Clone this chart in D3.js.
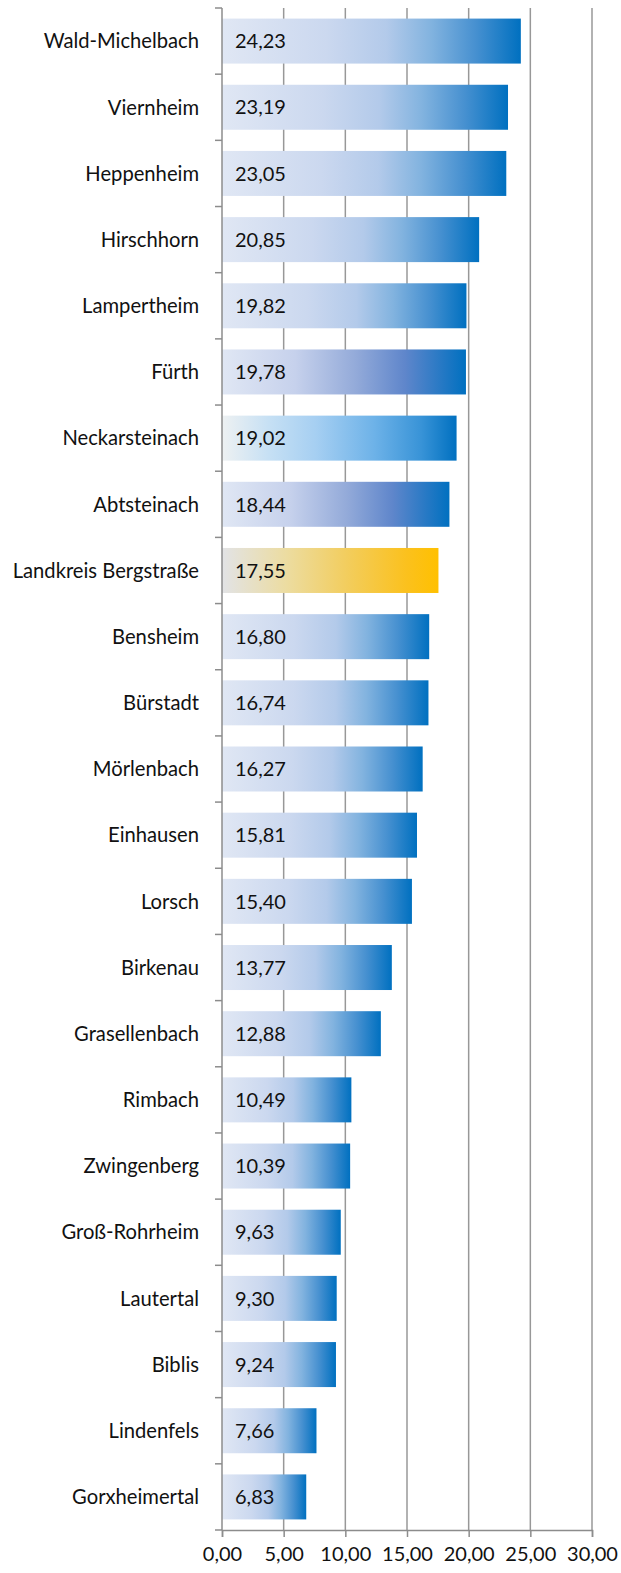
<!DOCTYPE html>
<html>
<head>
<meta charset="utf-8">
<script src="https://cdn.jsdelivr.net/npm/d3@7"></script>
<style>
  body { margin: 0; background: #fff; }
  text { font-family: Lato, "Open Sans", sans-serif; }
</style>
</head>
<body>
<div id="chart"></div>
<script>
const places = ["Wald-Michelbach", "Viernheim", "Heppenheim", "Hirschhorn", "Lampertheim", "Fürth",
  "Neckarsteinach", "Abtsteinach", "Landkreis Bergstraße", "Bensheim", "Bürstadt", "Mörlenbach",
  "Einhausen", "Lorsch", "Birkenau", "Grasellenbach", "Rimbach", "Zwingenberg", "Groß-Rohrheim",
  "Lautertal", "Biblis", "Lindenfels", "Gorxheimertal"];
const values = [24.23, 23.19, 23.05, 20.85, 19.82, 19.78, 19.02, 18.44, 17.55, 16.80, 16.74, 16.27,
  15.81, 15.40, 13.77, 12.88, 10.49, 10.39, 9.63, 9.30, 9.24, 7.66, 6.83];
const styles = ["blue", "blue", "blue", "blue", "blue", "violet", "sky", "violet", "gold", "blue", "blue",
  "blue", "blue", "blue", "blue", "blue", "blue", "blue", "blue", "blue", "blue", "blue", "blue"];
const xTicks = [0, 5, 10, 15, 20, 25, 30];

const data = places.map((p, i) => ({ name: p, value: values[i], style: styles[i] }));

const width = 621, height = 1573;
const margin = { top: 8, right: 29, bottom: 43, left: 222 };

const svg = d3.select("#chart").append("svg")
  .attr("width", width)
  .attr("height", height);

// gradients
const gradients = {
  blue: [[0, "#e0e7f4"], [0.35, "#cbd8ef"], [0.55, "#b3caea"], [0.7, "#82b3df"], [0.85, "#4690d0"], [1, "#0070c0"]],
  violet: [[0, "#e0e7f4"], [0.3, "#c6d1ec"], [0.55, "#93aad9"], [0.75, "#5f86cb"], [1, "#0070c0"]],
  sky: [[0, "#eef1f2"], [0.2, "#c6e0f4"], [0.4, "#a6cff2"], [0.65, "#6db2e8"], [0.85, "#3893d7"], [1, "#0070c0"]],
  gold: [[0, "#e2e3e6"], [0.3, "#ecdca0"], [0.6, "#f3cc58"], [0.85, "#fbc11e"], [1, "#ffc000"]]
};
const defs = svg.append("defs");
Object.entries(gradients).forEach(([k, stops]) => {
  const g = defs.append("linearGradient").attr("id", "grad-" + k)
    .attr("x1", "0%").attr("x2", "100%").attr("y1", "0%").attr("y2", "0%");
  stops.forEach(s => g.append("stop").attr("offset", s[0]).attr("stop-color", s[1]));
});

const x = d3.scaleLinear()
  .domain([0, 30])
  .range([margin.left, width - margin.right]);

const y = d3.scaleBand()
  .domain(places)
  .range([margin.top, height - margin.bottom])
  .paddingInner(0.32)
  .paddingOuter(0.16);

const yBottom = height - margin.bottom;

// gridlines
svg.append("g")
  .selectAll("line")
  .data(xTicks.slice(1))
  .enter()
  .append("line")
  .attr("x1", d => x(d)).attr("x2", d => x(d))
  .attr("y1", margin.top).attr("y2", yBottom)
  .attr("stroke", "#989898")
  .attr("stroke-width", 1.5);

// bars
svg.append("g")
  .selectAll("rect")
  .data(data)
  .enter()
  .append("rect")
  .attr("x", x(0))
  .attr("y", d => y(d.name))
  .attr("width", d => x(d.value) - x(0))
  .attr("height", y.bandwidth())
  .attr("fill", d => `url(#grad-${d.style})`);

// value labels
svg.append("g")
  .selectAll("text")
  .data(data)
  .enter()
  .append("text")
  .attr("x", x(0) + 13)
  .attr("y", d => y(d.name) + y.bandwidth() / 2)
  .attr("dy", "0.36em")
  .attr("font-size", 20)
  .attr("fill", "#111")
  .text(d => d3.format(".2f")(d.value).replace(".", ","));

// category labels
svg.append("g")
  .selectAll("text")
  .data(data)
  .enter()
  .append("text")
  .attr("x", x(0) - 23)
  .attr("y", d => y(d.name) + y.bandwidth() / 2)
  .attr("dy", "0.36em")
  .attr("text-anchor", "end")
  .attr("font-size", 20.2)
  .attr("fill", "#111")
  .text(d => d.name);

// y axis line & ticks at band edges
const step = y.step();
const edges = d3.range(places.length + 1).map(i => margin.top + i * step);
svg.append("line")
  .attr("x1", x(0)).attr("x2", x(0))
  .attr("y1", margin.top).attr("y2", yBottom)
  .attr("stroke", "#8c8c8c").attr("stroke-width", 1.5);
svg.append("g")
  .selectAll("line")
  .data(edges)
  .enter()
  .append("line")
  .attr("x1", x(0) - 7).attr("x2", x(0))
  .attr("y1", d => d).attr("y2", d => d)
  .attr("stroke", "#8c8c8c").attr("stroke-width", 1.5);

// x axis
const xAxis = svg.append("g")
  .attr("transform", `translate(0,${yBottom})`)
  .call(d3.axisBottom(x).tickValues(xTicks).tickSize(7).tickPadding(10)
    .tickFormat(d => d3.format(".2f")(d).replace(".", ",")));
xAxis.select(".domain").attr("stroke", "#8c8c8c").attr("stroke-width", 1.5);
xAxis.selectAll(".tick line").attr("stroke", "#8c8c8c").attr("stroke-width", 1.5);
xAxis.selectAll(".tick text")
  .attr("font-size", 20)
  .attr("fill", "#111")
  .attr("font-family", "Lato, 'Open Sans', sans-serif");
</script>
</body>
</html>
